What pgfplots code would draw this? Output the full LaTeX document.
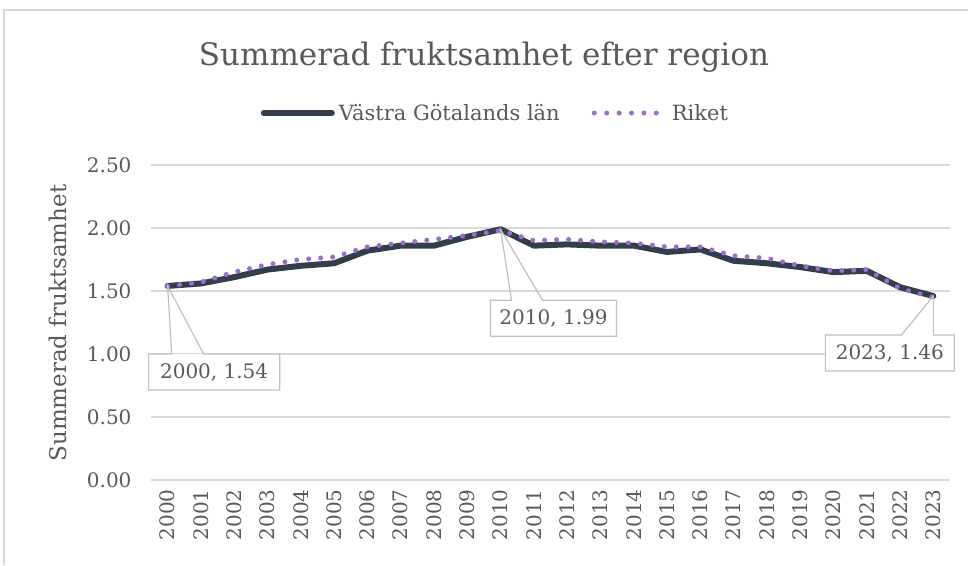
\documentclass[border=0pt]{standalone}
\usepackage{pgfplots}
\pgfplotsset{compat=1.18}
\usepackage{fontspec}
\setmainfont{DejaVu Serif}
\usetikzlibrary{calc}
\definecolor{vg}{HTML}{323F4A}
\definecolor{rk}{HTML}{9B6BCE}
\definecolor{gridc}{HTML}{D9D9D9}
\definecolor{txt}{HTML}{595959}
\definecolor{lead}{HTML}{BFBFBF}

\pgfplotstableread{
x vg rk
0 1.54 1.54
1 1.56 1.57
2 1.61 1.65
3 1.67 1.71
4 1.70 1.75
5 1.72 1.77
6 1.82 1.85
7 1.86 1.88
8 1.86 1.91
9 1.93 1.94
10 1.99 1.98
11 1.86 1.90
12 1.87 1.91
13 1.86 1.89
14 1.86 1.88
15 1.81 1.85
16 1.83 1.85
17 1.74 1.78
18 1.72 1.76
19 1.69 1.70
20 1.65 1.66
21 1.66 1.67
22 1.53 1.52
23 1.46 1.45
}\data

\begin{document}
\begin{tikzpicture}[x=1pt,y=1pt]
\path[use as bounding box] (0,0) rectangle (968,565);
\draw[gridc, line width=1.2pt] (4,0) -- (4,555) -- (968,555);
\node[text=txt, font=\fontsize{31}{36}\selectfont] at (484,508) {Summerad fruktsamhet efter region};
\node[text=txt, rotate=90, font=\fontsize{23}{27}\selectfont] at (58,242) {Summerad fruktsamhet};
\begin{axis}[
  at={(151pt,85pt)}, anchor=south west,
  scale only axis, width=799pt, height=315pt,
  xmin=-0.5, xmax=23.5, ymin=0, ymax=2.5,
  axis lines*=left,
  y axis line style={draw=none},
  x axis line style={gridc, line width=1.5pt, -},
  major tick length=0pt,
  ytick={0,0.5,1,1.5,2,2.5},
  xtick={0,...,23},
  xticklabels={2000,2001,2002,2003,2004,2005,2006,2007,2008,2009,2010,2011,2012,2013,2014,2015,2016,2017,2018,2019,2020,2021,2022,2023},
  ymajorgrids,
  grid style={gridc, line width=1.2pt},
  /pgf/number format/assume math mode=true,
  /pgf/number format/fixed,
  /pgf/number format/fixed zerofill,
  /pgf/number format/precision=2,
  tick label style={font=\fontsize{20}{24}\selectfont, text=txt},
  yticklabel style={xshift=-16pt},
  xticklabel style={rotate=90, anchor=east, xshift=-6pt},
  legend style={at={(axis description cs:0.431,1.165)}, anchor=center, draw=none, fill=none,
    font=\fontsize{21}{25}\selectfont, text=txt, legend columns=2,
    /tikz/every even column/.append style={column sep=30pt}},
  clip=false,
]
\addplot[vg, line width=6pt, line cap=round, line join=round,
  legend image code/.code={\draw[vg, line width=6pt, line cap=round] (0pt,0pt) -- (68pt,0pt);}] table[x=x,y=vg] {\data};
\addlegendentry{\hspace{2pt}Västra Götalands län}
\addplot[rk, line width=5pt, line cap=round, dash pattern=on 0pt off 12pt,
  legend image code/.code={\draw[rk, line width=5pt, line cap=round, dash pattern=on 0pt off 12.4pt] (0pt,0pt) -- (63pt,0pt);}] table[x=x,y=rk] {\data};
\addlegendentry{\hspace{10pt}Riket}
\coordinate (A) at (axis cs:0,1.54);
\coordinate (B) at (axis cs:10,1.99);
\coordinate (C) at (axis cs:23,1.46);
\end{axis}
% callouts
\fill[white] ($(A)+(-19,-68)$) rectangle ($(A)+(112,-104)$);
\draw[lead, line width=1.2pt, line join=miter] ($(A)+(4,-68)$) -- ($(A)+(-19,-68)$) -- ($(A)+(-19,-104)$) -- ($(A)+(112,-104)$) -- ($(A)+(112,-68)$) -- ($(A)+(36,-68)$) -- (A) -- cycle;
\node[text=txt, font=\fontsize{20}{24}\selectfont] at ($(A)+(46.5,-86)$) {2000, 1.54};
\fill[white] ($(B)+(-10,-71)$) rectangle ($(B)+(116,-107)$);
\draw[lead, line width=1.2pt, line join=miter] ($(B)+(11,-71)$) -- ($(B)+(-10,-71)$) -- ($(B)+(-10,-107)$) -- ($(B)+(116,-107)$) -- ($(B)+(116,-71)$) -- ($(B)+(42,-71)$) -- (B) -- cycle;
\node[text=txt, font=\fontsize{20}{24}\selectfont] at ($(B)+(53,-89)$) {2010, 1.99};
\fill[white] ($(C)+(-108,-39)$) rectangle ($(C)+(21,-75)$);
\draw[lead, line width=1.2pt, line join=miter] ($(C)+(0,-39)$) -- ($(C)+(21,-39)$) -- ($(C)+(21,-75)$) -- ($(C)+(-108,-75)$) -- ($(C)+(-108,-39)$) -- ($(C)+(-32,-39)$) -- (C) -- cycle;
\node[text=txt, font=\fontsize{20}{24}\selectfont] at ($(C)+(-43.5,-57)$) {2023, 1.46};
\end{tikzpicture}
\end{document}
